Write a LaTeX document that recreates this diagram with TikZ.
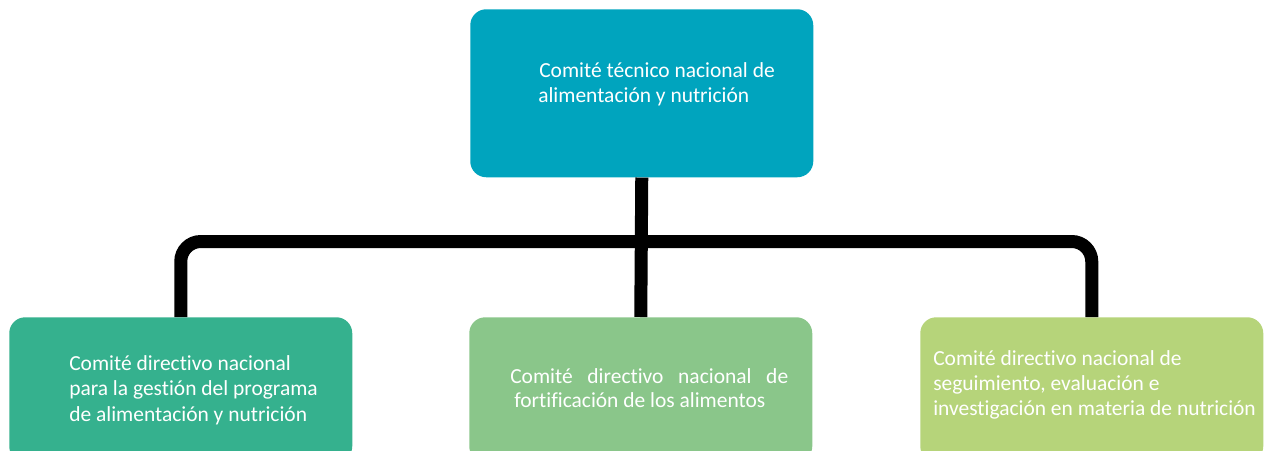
\documentclass[tikz,border=0pt]{standalone}
\usepackage{fontspec}
\setmainfont{Carlito}[Ligatures=NoCommon]
\definecolor{ctop}{RGB}{0,164,190}
\definecolor{cleft}{RGB}{53,177,142}
\definecolor{cmid}{RGB}{138,198,138}
\definecolor{cright}{RGB}{182,212,122}
\begin{document}
\begin{tikzpicture}[x=0.75pt,y=-0.75pt,
  box/.style={draw=none,rounded corners=12pt,inner sep=0pt,anchor=north west},
  lbl/.style={text=white,anchor=base west,inner sep=0pt,font=\fontsize{16.1}{19.3}\selectfont,align=left},
  conn/.style={line width=9.75pt,draw=black,rounded corners=15pt}]
\useasboundingbox (0,0) rectangle (1264,450);
\node[box,fill=ctop,minimum width=343*0.75pt,minimum height=168*0.75pt] (top) at (470,9) {};
\node[box,fill=cleft,minimum width=343*0.75pt,minimum height=145*0.75pt] (left) at (9,317) {};
\node[box,fill=cmid,minimum width=343*0.75pt,minimum height=145*0.75pt] (mid) at (469,317) {};
\node[box,fill=cright,minimum width=343*0.75pt,minimum height=145*0.75pt] (right) at (920,317) {};
\coordinate (bar) at (640,241.5);
\draw[conn] (top.south) -- (mid.north);
\draw[conn] (left.north) -- (left.north |- bar) -- (right.north |- bar) -- (right.north);
\node[lbl] (ttop1) at (539,77) {Comité técnico nacional de};
\node[lbl] (ttop2) at (538,102) {alimentación y nutrición};
\node[lbl] (tl1) at (69,370) {Comité directivo nacional};
\node[lbl] (tl2) at (69,395.5) {para la gestión del programa};
\node[lbl] (tl3) at (69,421) {de alimentación y nutrición};
\node[lbl] (tm1) at (510,383) {\hbox to 208.5pt{Comité\hfill directivo\hfill nacional\hfill de}};
\node[lbl] (tm2) at (514,407) {fortificación de los alimentos};
\node[lbl] (tr1) at (933,365) {Comité directivo nacional de};
\node[lbl] (tr2) at (933,390) {seguimiento, evaluación e};
\node[lbl] (tr3) at (933,415) {investigación en materia de nutrición};
\end{tikzpicture}
\end{document}
